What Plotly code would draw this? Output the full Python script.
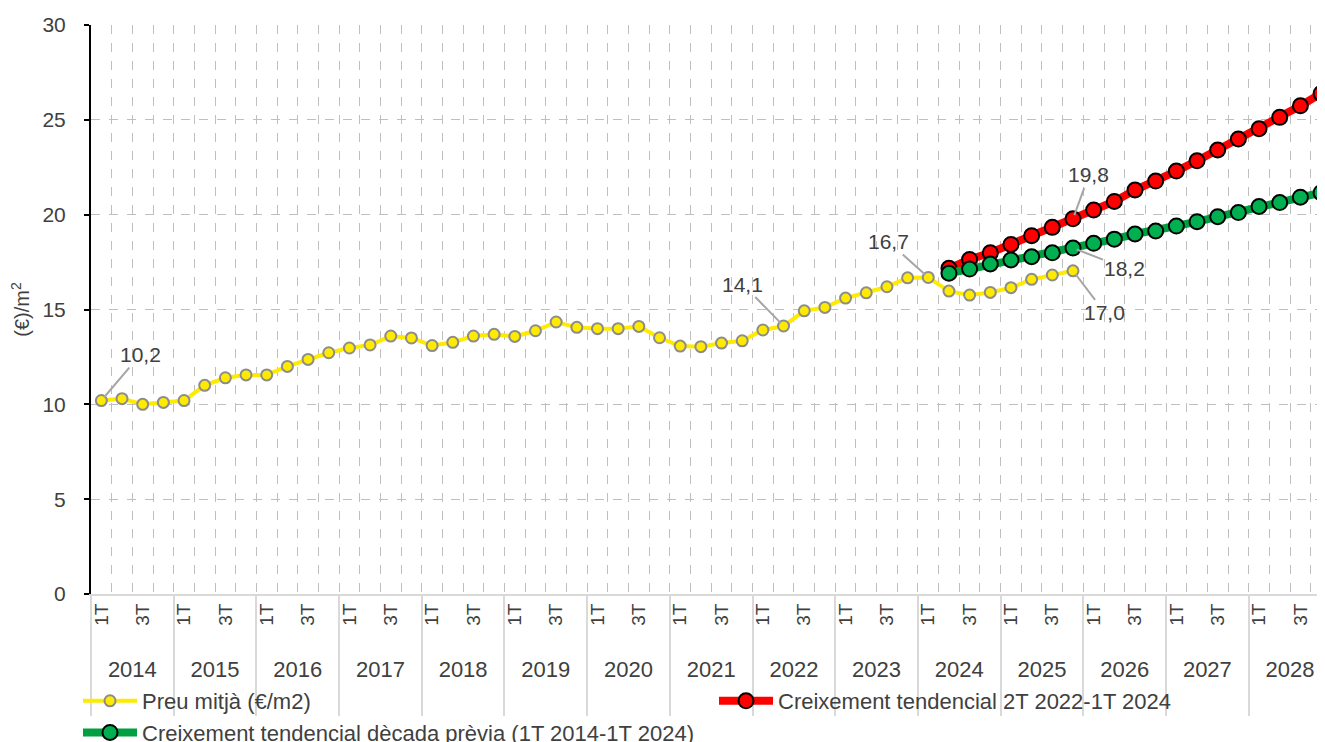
import plotly.graph_objects as go

years = [str(y) for y in range(2014, 2029)]
quarters = ["1T", "2T", "3T", "4T"]
quarter_ticktext = ["1T", "", "3T", ""]

preu = [10.2, 10.3, 10.0, 10.1, 10.2, 11.0, 11.4, 11.55, 11.55, 12.0, 12.37, 12.72,
        12.97, 13.13, 13.6, 13.5, 13.1, 13.27, 13.6, 13.69, 13.58, 13.88, 14.34, 14.06,
        13.99, 13.99, 14.11, 13.51, 13.07, 13.04, 13.23, 13.35, 13.92, 14.13, 14.93, 15.11,
        15.6, 15.88, 16.2, 16.67, 16.69, 15.97, 15.76, 15.9, 16.15, 16.59, 16.82, 17.04]

tend_recent = [17.17, 17.64, 17.99, 18.43, 18.89, 19.33, 19.78, 20.24, 20.70, 21.30,
               21.77, 22.30, 22.84, 23.41, 23.99, 24.53, 25.13, 25.74, 26.39]

tend_decada = [16.91, 17.13, 17.40, 17.61, 17.78, 17.99, 18.24, 18.49, 18.71, 18.98,
               19.14, 19.40, 19.63, 19.89, 20.11, 20.43, 20.64, 20.92, 21.16]

names = ["Preu mitjà (€/m2)",
         "Creixement tendencial 2T 2022-1T 2024",
         "Creixement tendencial dècada prèvia (1T 2014-1T 2024)"]

cats = [f"{y} {q}" for y in years for q in quarters]
tick_text = [t for _ in years for t in quarter_ticktext]
n = len(cats)
trend_start = n - len(tend_recent)

x_preu = cats[:len(preu)]
x_trend = cats[trend_start:]

FONT = "Liberation Sans, Arial, sans-serif"
TXT = "#404040"

fig = go.Figure()
fig.add_trace(go.Scatter(
    x=x_preu, y=preu, name=names[0], mode="lines+markers", legend="legend",
    line=dict(color="#FFEA00", width=4),
    marker=dict(size=11, color="#FFEA00", line=dict(color="#8C8C8C", width=2)),
))
fig.add_trace(go.Scatter(
    x=x_trend, y=tend_recent, name=names[1], mode="lines+markers", legend="legend2",
    line=dict(color="#FF0000", width=8),
    marker=dict(size=15, color="#FF0000", line=dict(color="#000000", width=2)),
))
fig.add_trace(go.Scatter(
    x=x_trend, y=tend_decada, name=names[2], mode="lines+markers", legend="legend",
    line=dict(color="#00A040", width=8),
    marker=dict(size=15, color="#00B050", line=dict(color="#000000", width=2)),
))

# data labels with leader lines
last = len(preu) - 1
labels = [
    (x_preu[0], preu[0], 39, -46),
    (x_preu[33], preu[33], -41, -42),
    (x_preu[40], preu[40], -40, -36),
    (x_trend[last - trend_start], tend_recent[last - trend_start], 16, -44),
    (x_trend[last - trend_start], tend_decada[last - trend_start], 52, 20),
    (x_preu[last], preu[last], 32, 42),
]
for xc, yv, ax, ay in labels:
    fig.add_annotation(
        x=xc, y=yv, xref="x", yref="y",
        text=f"{yv:.1f}".replace(".", ","),
        showarrow=True, arrowhead=0, arrowwidth=2, arrowcolor="#A6A6A6",
        ax=ax, ay=ay, standoff=4,
        font=dict(family=FONT, size=21, color=TXT),
    )

# helper numeric positions for year labels and dividers (category index space)
year_centers = [4 * i + 1.5 for i in range(len(years))]
year_bounds = [4 * i - 0.5 for i in range(len(years))]

fig.add_trace(go.Scatter(x=[year_centers[0]], y=[None], xaxis="x2", showlegend=False, hoverinfo="skip"))
fig.add_trace(go.Scatter(x=[year_centers[0]], y=[None], xaxis="x3", showlegend=False, hoverinfo="skip"))

# page body adds an 8px offset; figure sized so it ends at the window edge
W = 1317
H = 734
T = 17
L = 83
plot_bottom = 586
paper_w = W - L
paper_h = H - T
ydom0 = (H - plot_bottom) / paper_h
XR = [-0.5, 59.19]

legend_common = dict(
    orientation="v", xref="paper", yref="paper",
    xanchor="left", yanchor="top",
    font=dict(family=FONT, size=22, color=TXT),
    tracegroupgap=0, bgcolor="rgba(0,0,0,0)", itemwidth=54,
)
leg_y = (H - 672) / paper_h

fig.update_layout(
    width=W, height=H,
    margin=dict(l=L, r=0, t=T, b=0, autoexpand=False),
    paper_bgcolor="white", plot_bgcolor="white",
    font=dict(family=FONT, color=TXT, size=20),
    showlegend=True,
    legend=dict(legend_common, x=(70 - L) / paper_w, y=leg_y),
    legend2=dict(legend_common, x=(706 - L) / paper_w, y=leg_y),
    xaxis=dict(
        type="category", categoryorder="array", categoryarray=cats,
        range=XR, automargin=False,
        tickmode="array", tickvals=cats, ticktext=tick_text,
        tickson="boundaries",
        showgrid=True, gridcolor="#BFBFBF", griddash="dash", gridwidth=1,
        showline=True, linecolor="#D9D9D9", linewidth=2,
        ticks="outside", ticklen=22, tickcolor="rgba(0,0,0,0)",
        tickangle=-90,
        tickfont=dict(family=FONT, size=19, color=TXT),
        zeroline=False,
    ),
    xaxis2=dict(
        overlaying="x", anchor="free", position=(H - 646) / paper_h, side="bottom",
        range=XR, automargin=False,
        tickmode="array", tickvals=year_centers, ticktext=years,
        showgrid=False, showline=False, zeroline=False, ticks="",
        tickfont=dict(family=FONT, size=22, color=TXT),
    ),
    xaxis3=dict(
        overlaying="x", anchor="free", position=ydom0, side="bottom",
        range=XR, automargin=False,
        tickmode="array", tickvals=year_bounds,
        showticklabels=False, showgrid=False, showline=False, zeroline=False,
        ticks="outside", ticklen=121, tickwidth=2, tickcolor="#D9D9D9",
    ),
    yaxis=dict(
        domain=[ydom0, 1],
        range=[0, 30], dtick=5, automargin=False,
        showgrid=True, gridcolor="#BFBFBF", griddash="dash", gridwidth=1,
        showline=True, linecolor="#000000", linewidth=2,
        ticks="outside", ticklen=5, tickcolor="#000000", tickwidth=2,
        ticklabelstandoff=14,
        tickfont=dict(family=FONT, size=21, color=TXT),
        title=dict(text="(€)/m<sup>2</sup>", font=dict(family=FONT, size=20, color=TXT), standoff=14),
        zeroline=False,
    ),
)

fig.write_html("out.html")
